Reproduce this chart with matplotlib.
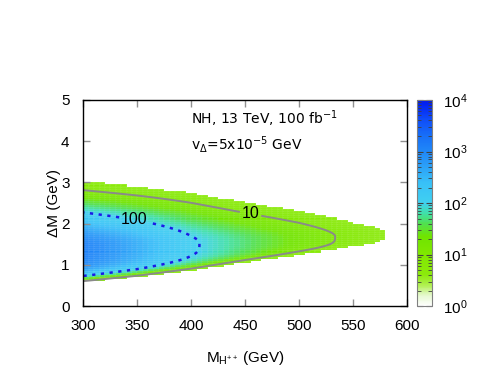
import numpy as np
import matplotlib
matplotlib.use("Agg")
import matplotlib.pyplot as plt
from matplotlib.colors import LinearSegmentedColormap, LogNorm
from matplotlib.ticker import LogLocator, NullFormatter

# ---- data (surface model knots) ----
mass_knots = [300, 350, 400, 450, 500, 550, 600]          # M_H++ (GeV)
peak_log10 = [3.10, 2.60, 2.06, 1.66, 1.28, 0.86, 0.44]   # log10(events) at the ridge
peak_dm = [1.45, 1.48, 1.52, 1.58, 1.65, 1.71, 1.76]      # ridge position in Delta M
width_low = [0.70, 0.66, 0.60, 0.51, 0.44, 0.38, 0.34]    # fall-off below the ridge
width_high = [0.45, 0.55, 0.65, 0.60, 0.55, 0.50, 0.50]   # fall-off above the ridge
tail_high = 0.5
cut_log10 = 0.6                                           # cells below this are empty
contour_levels = [10, 100]
label_pos = {10: (455, 2.25), 100: (347, 2.08)}
cbar_ticks = [1, 10, 100, 1000, 10000]
cbar_labels = ["$10^0$", "$10^1$", "$10^2$", "$10^3$", "$10^4$"]
x_ticks = [300, 350, 400, 450, 500, 550, 600]
y_ticks = [0, 1, 2, 3, 4, 5]

palette_pos = [0.0, 0.2, 0.4, 0.6, 1.0, 1.35, 1.6, 1.8, 2.0, 2.4, 2.8, 3.0, 3.3, 3.6, 4.0]
palette_col = ["#ffffff", "#e6f8d0", "#b0f050", "#8cea0c", "#80e800", "#70e400",
               "#50e050", "#40e0a8", "#40d0f0", "#38c0f8", "#2898f8", "#2088f8",
               "#1870f8", "#1050f8", "#0018f0"]


def log_events(M, D):
    pk = np.interp(M, mass_knots, peak_log10)
    c = np.interp(M, mass_knots, peak_dm)
    wl = np.interp(M, mass_knots, width_low)
    wh = np.interp(M, mass_knots, width_high)
    u = D - c
    drop = np.where(u < 0, (np.abs(u) / wl) ** 4, u ** 2 / (wh ** 2 + tail_high * np.abs(u)))
    return pk - drop


plt.rcParams["font.family"] = ["Liberation Sans", "DejaVu Sans"]
plt.rcParams["mathtext.fontset"] = "custom"
plt.rcParams["mathtext.rm"] = "Liberation Sans"
plt.rcParams["mathtext.it"] = "Liberation Sans"
plt.rcParams["mathtext.default"] = "regular"

fig = plt.figure(figsize=(4.91, 3.92), dpi=100)
ax = fig.add_axes([0.170, 0.219, 0.659, 0.526])

cmap = LinearSegmentedColormap.from_list(
    "gp", [(p / 4.0, col) for p, col in zip(palette_pos, palette_col)])
norm = LogNorm(vmin=1, vmax=1e4)

M_edges = np.arange(300, 605, 5.0)
D_edges = np.arange(0, 5.0001, 0.05)
Mc = 0.5 * (M_edges[:-1] + M_edges[1:])
Dc = 0.5 * (D_edges[:-1] + D_edges[1:])
MM, DD = np.meshgrid(Mc, Dc)
L = log_events(MM, DD)
Z = np.ma.masked_where(L < cut_log10, 10 ** L)
pcm = ax.pcolormesh(M_edges, D_edges, Z, cmap=cmap, norm=norm, shading="flat",
                    edgecolors=(1, 1, 1, 0.06), linewidth=0.3)

Mf = np.linspace(300, 600, 601)
Df = np.linspace(0, 5, 501)
MF, DF = np.meshgrid(Mf, Df)
ZF = 10 ** log_events(MF, DF)
cs10 = ax.contour(MF, DF, ZF, levels=[contour_levels[0]], colors="#8a8a8a", linewidths=1.4)
cs100 = ax.contour(MF, DF, ZF, levels=[contour_levels[1]], colors="#1a1ae6", linewidths=1.8,
                   linestyles=[(0, (1.3, 2.2))])
lab10 = ax.clabel(cs10, fmt="%d", manual=[label_pos[10]], inline=True, fontsize=11.5,
                  colors="black", inline_spacing=2)
lab100 = ax.clabel(cs100, fmt="%d", manual=[label_pos[100]], inline=True, fontsize=11.5,
                   colors="black", inline_spacing=2)
for t in list(lab10) + list(lab100):
    t.set_rotation(0)

ax.set_xlim(300, 600)
ax.set_ylim(0, 5)
ax.set_xticks(x_ticks)
ax.set_yticks(y_ticks)
ax.tick_params(direction="in", length=5, width=1, color="#909090", labelsize=11,
               top=True, right=True, pad=9)
ax.tick_params(axis="y", pad=10)
for s in ax.spines.values():
    s.set_color("black")
    s.set_linewidth(1)
ax.set_xlabel("M$_{H^{++}}$ (GeV)", fontsize=11, labelpad=12)
ax.set_ylabel("ΔM (GeV)", fontsize=11, labelpad=0)

ax.text(400, 4.55, "NH, 13 TeV, 100 fb$^{-1}$", fontsize=10, va="center", ha="left",
        family=["DejaVu Sans"], math_fontfamily="dejavusans")
ax.text(400, 3.93, "v$_{\\Delta}$=5x10$^{-5}$ GeV", fontsize=10, va="center", ha="left",
        family=["DejaVu Sans"], math_fontfamily="dejavusans")

cax = fig.add_axes([0.849, 0.219, 0.031, 0.526])
cb = fig.colorbar(pcm, cax=cax)
cb.outline.set_edgecolor("#808080")
cb.set_ticks(cbar_ticks)
cb.set_ticklabels(cbar_labels)
cax.yaxis.set_minor_locator(LogLocator(base=10, subs=np.arange(2, 10)))
cax.yaxis.set_minor_formatter(NullFormatter())
cax.tick_params(which="both", direction="in", left=True, right=True, color="#404040",
                labelsize=11, pad=8)
cax.tick_params(which="major", length=4)
cax.tick_params(which="minor", length=3)

fig.savefig("out.png", dpi=100)
